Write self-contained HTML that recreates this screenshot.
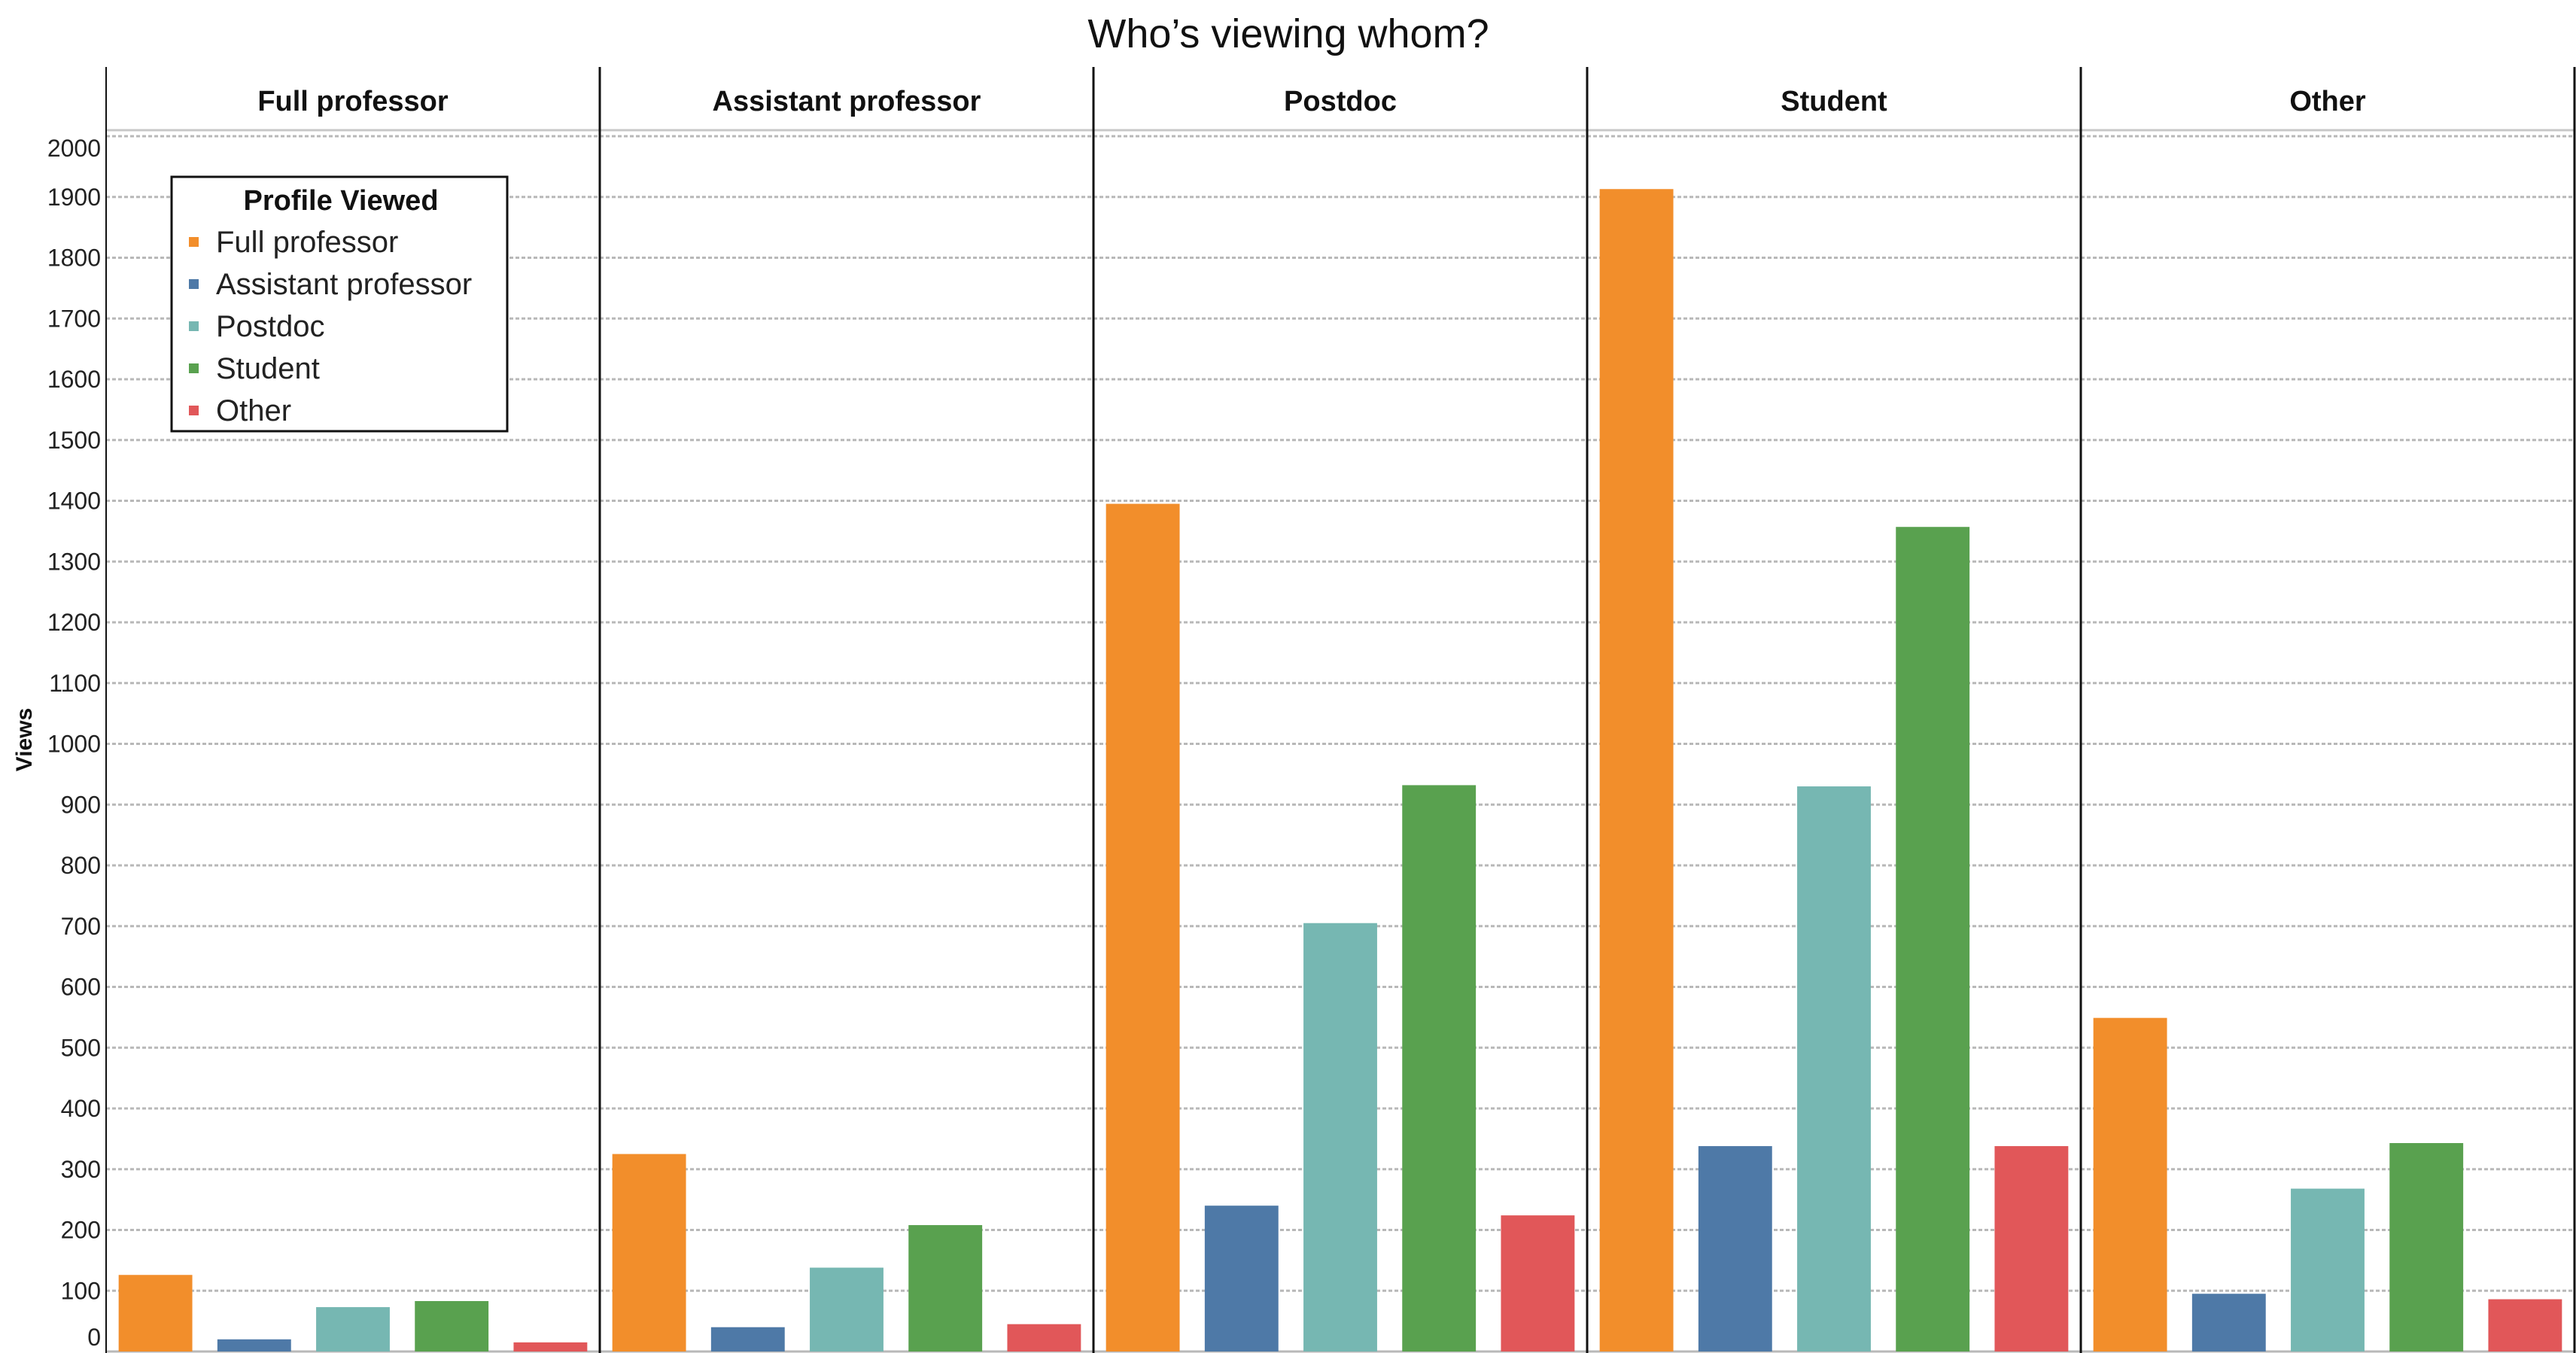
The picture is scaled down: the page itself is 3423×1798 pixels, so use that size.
<!DOCTYPE html>
<html><head><meta charset="utf-8"><style>
html,body{margin:0;padding:0;background:#fff;}
svg{display:block;font-family:"Liberation Sans","DejaVu Sans",sans-serif;}
</style></head><body>
<svg id="chart" width="3423" height="1798" viewBox="0 0 3423 1798" xmlns="http://www.w3.org/2000/svg">
<text x="1712" y="63" text-anchor="middle" font-size="54" fill="#111">Who’s viewing whom?</text>
<g id="grid"></g>
<g id="bars"></g>
<g id="panels"></g>
<g id="yaxis"></g>
<text transform="translate(42,983) rotate(-90)" text-anchor="middle" font-size="30" font-weight="bold" fill="#111">Views</text>
<g>
<rect x="228" y="235" width="446" height="338" fill="#fff" stroke="#111" stroke-width="3"/>
<text x="453" y="279" text-anchor="middle" font-size="38" font-weight="bold" fill="#111">Profile Viewed</text>
<g id="legendItems"></g>
</g>
</svg>
<script>
const viewerGroups = ["Full professor","Assistant professor","Postdoc","Student","Other"];
const profileCategories = ["Full professor","Assistant professor","Postdoc","Student","Other"];
const seriesColors = ["#f28e2b","#4e79a7","#76b7b2","#59a14f","#e15759"];
const viewsFullProfessor = [126, 20, 73, 83, 15];
const viewsAssistantProfessor = [325, 40, 138, 208, 45];
const viewsPostdoc = [1395, 240, 705, 932, 224];
const viewsStudent = [1913, 338, 930, 1357, 338];
const viewsOther = [549, 95, 268, 343, 86];
const yTicks = [0,100,200,300,400,500,600,700,800,900,1000,1100,1200,1300,1400,1500,1600,1700,1800,1900,2000];

const panelValues = [viewsFullProfessor, viewsAssistantProfessor, viewsPostdoc, viewsStudent, viewsOther];
const NS = "http://www.w3.org/2000/svg";
const plotLeft = 141, plotRight = 3421, y0 = 1796, yTop = 181, yMax = 2000;
const panelW = (plotRight - plotLeft) / viewerGroups.length;
function yScale(v){ return y0 - (v / yMax) * (y0 - yTop); }
function panelX(i){ return plotLeft + i * panelW; }
function mk(tag, attrs, parent){ const e = document.createElementNS(NS, tag); for (const k in attrs) e.setAttribute(k, attrs[k]); parent.appendChild(e); return e; }

const grid = document.getElementById('grid');
const yaxis = document.getElementById('yaxis');
yTicks.forEach(t => {
  const y = yScale(t);
  const l = mk('line', {x1: plotLeft, x2: plotRight, y1: y, y2: y, stroke: '#b8b8b8', 'stroke-width': 3, 'stroke-dasharray': t === 0 ? 'none' : '5 3'}, grid);
  
  
  let ly = y + 11;
  if (t === 2000) ly = y + 27;
  if (t === 0) ly = y - 8;
  const tx = mk('text', {x: 134, y: ly, 'text-anchor': 'end', 'font-size': 32, fill: '#222'}, yaxis);
  tx.textContent = t;
  
  
});
const hl = mk('line', {x1: plotLeft, x2: plotRight, y1: 173, y2: 173, stroke: '#c8c8c8', 'stroke-width': 3}, grid);



const bars = document.getElementById('bars');
const bandW = panelW / profileCategories.length, barW = bandW * 0.746;
panelValues.forEach((vals, p) => {
  vals.forEach((v, c) => {
    const x = panelX(p) + c * bandW + (bandW - barW) / 2;
    const r = mk('rect', {x: x, y: yScale(v), width: barW, height: y0 - yScale(v), fill: seriesColors[c]}, bars);
    
    
  });
});

const panels = document.getElementById('panels');
viewerGroups.forEach((g, i) => {
  const x = panelX(i);
  const ln = mk('line', {x1: x, x2: x, y1: 89, y2: 1798, stroke: '#111', 'stroke-width': i === 0 ? 2 : 3}, panels);
  
  
  const h = mk('text', {x: x + panelW / 2, y: 147, 'text-anchor': 'middle', 'font-size': 38, 'font-weight': 'bold', fill: '#111'}, panels);
  h.textContent = g;
  
  
});
const rl = mk('line', {x1: 3421, x2: 3421, y1: 89, y2: 1798, stroke: '#111', 'stroke-width': 3}, panels);



const li = document.getElementById('legendItems');
profileCategories.forEach((c, i) => {
  const y = 335 + i * 56;
  const s = mk('rect', {x: 251, y: y - 20, width: 13, height: 13, fill: seriesColors[i]}, li);
  
  
  const t = mk('text', {x: 287, y: y, 'font-size': 40, fill: '#222'}, li);
  t.textContent = c;
  
  
});
</script>
</body></html>
